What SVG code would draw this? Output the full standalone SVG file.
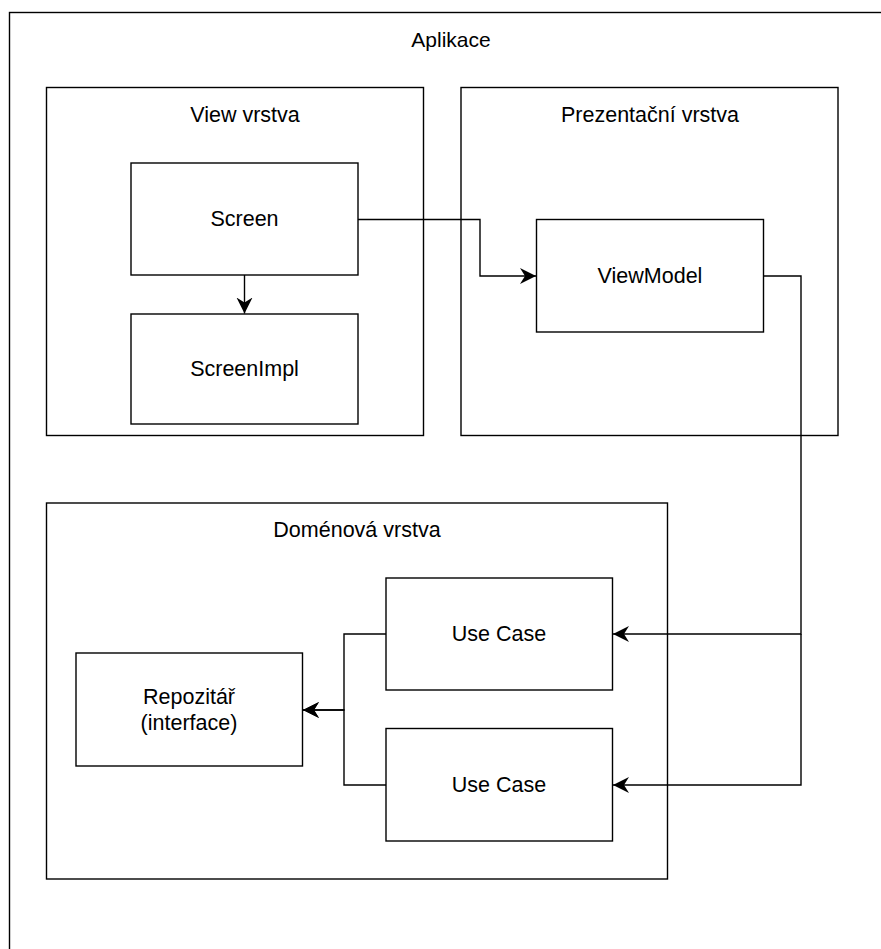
<svg xmlns="http://www.w3.org/2000/svg" width="881" height="949" viewBox="0 0 881 949">
  <style>
    .box { fill: #ffffff; stroke: #000000; stroke-width: 1.4; }
    .frame { fill: none; stroke: #000000; stroke-width: 1.4; }
    .edge { fill: none; stroke: #000000; stroke-width: 1.4; }
    text { font-family: "Liberation Sans", Arial, sans-serif; font-size: 21.5px; fill: #000000; text-anchor: middle; }
    .title { font-size: 21px; }
  </style>
  <defs>
    <marker id="arrow" markerUnits="userSpaceOnUse" markerWidth="17" markerHeight="17" refX="16" refY="8" orient="auto">
      <path d="M0,0 L16,8 L0,16 L5,8 Z" fill="#000000"/>
    </marker>
  </defs>

  <rect width="881" height="949" fill="#ffffff"/>

  <!-- application frame -->
  <g id="aplikace">
    <rect class="frame" x="9.5" y="12.5" width="900" height="1000"/>
    <text class="title" x="451" y="47">Aplikace</text>
  </g>

  <!-- layer containers -->
  <g id="view-vrstva">
    <rect class="frame" x="46.5" y="87.5" width="377" height="348"/>
    <text x="245" y="122">View vrstva</text>
  </g>
  <g id="prezentacni-vrstva">
    <rect class="frame" x="461" y="87.5" width="377" height="348"/>
    <text x="650" y="122">Prezentační vrstva</text>
  </g>
  <g id="domenova-vrstva">
    <rect class="frame" x="46.5" y="503" width="621" height="376"/>
    <text x="357" y="537">Doménová vrstva</text>
  </g>

  <!-- components -->
  <g id="screen">
    <rect class="box" x="131" y="163" width="227" height="112"/>
    <text x="244.5" y="226">Screen</text>
  </g>
  <g id="screen-impl">
    <rect class="box" x="131" y="314" width="227" height="110"/>
    <text x="244.5" y="376">ScreenImpl</text>
  </g>
  <g id="viewmodel">
    <rect class="box" x="536.5" y="219.5" width="227" height="112.5"/>
    <text x="650" y="283">ViewModel</text>
  </g>
  <g id="use-case-1">
    <rect class="box" x="386" y="578" width="226.5" height="112"/>
    <text x="499" y="641">Use Case</text>
  </g>
  <g id="use-case-2">
    <rect class="box" x="386" y="728.5" width="226.5" height="112.5"/>
    <text x="499" y="792">Use Case</text>
  </g>
  <g id="repozitar">
    <rect class="box" x="76" y="653" width="226.5" height="113"/>
    <text x="189" y="704">Repozitář</text>
    <text x="189" y="730">(interface)</text>
  </g>

  <!-- connectors -->
  <g id="connectors">
    <path class="edge" d="M358,219.5 H480 V276 H536" marker-end="url(#arrow)"/>
    <path class="edge" d="M244.5,275 V313.5" marker-end="url(#arrow)"/>
    <path class="edge" d="M763.5,276 H801 V634 H613" marker-end="url(#arrow)"/>
    <path class="edge" d="M801,634 V785 H613" marker-end="url(#arrow)"/>
    <path class="edge" d="M386,634 H344 V710 H303" marker-end="url(#arrow)"/>
    <path class="edge" d="M386,785 H344 V710 H303" marker-end="url(#arrow)"/>
  </g>
</svg>
